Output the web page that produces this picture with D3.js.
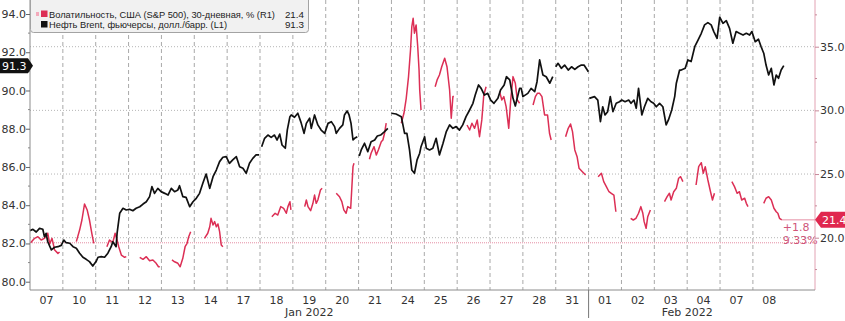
<!DOCTYPE html>
<html>
<head>
<meta charset="utf-8">
<script src="https://cdn.jsdelivr.net/npm/d3@7"></script>
<style>
  body { margin: 0; background: #fff; }
  svg { display: block; font-family: "DejaVu Sans", sans-serif; }
</style>
</head>
<body>
<svg id="chart" width="845" height="321"></svg>
<script>
// Brent vs S&P 500 30-day volatility, Jan 7 - Feb 8 2022 (intraday)

// trading days on the x axis (one slot each)
const dayLabels = ["07","10","11","12","13","14","17","18","19","20","21","24","25","26","27","28","31",
                   "01","02","03","04","07","08"];
const months = [
  { label: "Jan 2022", from: 0, to: 17 },
  { label: "Feb 2022", from: 17, to: 23 }
];
const leftTicks = [80, 82, 84, 86, 88, 90, 92, 94];
const rightTicks = [20, 25, 30, 35];

// [day position, value]; null = break in the series
const oil = [
  [0,82.67],[0.09,82.74],[0.19,82.60],[0.29,82.79],[0.39,82.74],[0.44,82.35],[0.49,82.53],[0.54,82.09],[0.65,81.66],[0.75,81.80],[0.85,81.83],[0.95,81.90],
  [1.03,82.18],[1.10,82.04],[1.21,82.01],[1.31,81.83],[1.41,81.75],[1.51,81.49],[1.61,81.28],[1.71,81.17],[1.81,81.05],[1.91,80.82],[1.97,80.96],[2.01,81.05],
  [2.07,81.28],[2.17,81.31],[2.27,81.28],[2.37,81.49],[2.47,81.83],[2.52,82.09],[2.62,81.83],[2.65,82.53],[2.73,83.58],[2.83,83.84],[2.93,83.75],[3.03,83.79],
  [3.13,83.71],[3.23,83.84],[3.34,83.92],[3.44,84.06],[3.54,84.18],[3.64,84.45],[3.71,84.97],[3.79,84.62],[3.89,84.88],[3.99,84.71],
  [4.10,84.62],[4.20,84.53],[4.30,84.88],[4.40,84.71],[4.50,84.80],[4.55,85.02],[4.65,84.45],[4.75,84.41],[4.86,83.92],[4.96,84.18],
  [5.06,84.36],[5.16,84.62],[5.26,85.15],[5.36,85.63],[5.47,84.88],[5.57,85.49],[5.67,85.84],[5.77,86.28],[5.87,86.51],[5.97,86.54],
  [6.07,86.19],[6.17,86.37],[6.28,86.54],[6.38,86.01],[6.48,85.93],[6.58,85.67],[6.68,86.19],[6.78,86.45],[6.88,86.63],[6.97,86.63],
  null,
  [7.05,87.06],[7.14,87.50],[7.24,87.67],[7.34,87.55],[7.44,87.67],[7.52,87.41],[7.60,87.72],[7.67,87.15],[7.77,86.98],[7.83,87.93],[7.91,88.63],[7.95,88.72],
  [8.05,88.60],[8.15,88.81],[8.25,88.32],[8.34,87.76],[8.41,88.28],[8.51,88.55],[8.56,88.02],[8.66,88.72],[8.76,88.20],[8.86,87.93],[8.97,87.76],
  [9.07,88.28],[9.17,88.37],[9.27,88.11],[9.32,87.76],[9.42,88.02],[9.52,88.20],[9.57,88.72],[9.65,88.93],[9.71,88.72],[9.77,88.28],[9.83,87.41],[9.88,87.50],[9.96,87.58],
  null,
  [10.02,86.57],[10.08,86.89],[10.18,87.24],[10.28,86.80],[10.38,87.32],[10.49,87.41],[10.57,87.62],[10.67,87.67],[10.79,87.85],[10.89,88.02],
  null,
  [11.0,88.81],[11.14,88.77],[11.30,88.63],[11.40,87.76],[11.47,87.76],[11.55,86.89],[11.62,85.84],[11.70,85.67],[11.78,86.37],[11.86,86.72],[11.90,87.06],
  [12.01,87.58],[12.06,86.98],[12.16,86.89],[12.26,86.98],[12.36,87.50],[12.46,86.63],[12.57,87.24],[12.67,87.85],[12.77,88.20],[12.87,88.02],[12.97,88.11],
  [13.07,87.93],[13.17,88.20],[13.27,88.63],[13.38,88.98],[13.48,89.33],[13.55,89.76],[13.65,90.29],[13.73,90.11],[13.83,89.76],[13.93,89.85],
  [14.02,89.50],[14.12,89.33],[14.24,89.59],[14.32,90.03],[14.43,90.29],[14.50,90.72],[14.60,90.55],[14.70,89.59],[14.77,89.19],[14.85,89.76],[14.90,90.11],[14.95,90.11],
  [15.00,89.68],[15.15,89.85],[15.25,90.11],[15.36,89.94],[15.43,90.46],[15.51,91.60],[15.61,90.81],[15.71,90.72],[15.82,90.38],[15.91,90.72],
  null,
  [16.0,91.24],[16.07,91.42],[16.17,91.16],[16.27,91.33],[16.38,91.07],[16.48,91.24],[16.58,91.10],[16.68,91.24],[16.78,91.33],[16.86,91.33],[16.96,91.07],[16.99,90.98],
  null,
  [17.02,89.59],[17.18,89.68],[17.28,89.50],[17.36,88.37],[17.43,89.15],[17.50,88.72],[17.58,88.89],[17.66,89.68],[17.74,88.89],[17.84,89.33],[17.94,89.41],
  [18.01,89.50],[18.11,89.41],[18.22,89.50],[18.29,89.33],[18.38,89.50],[18.45,89.07],[18.52,90.11],[18.62,88.72],[18.70,89.15],[18.80,89.59],[18.90,89.41],[18.98,89.33],
  [19.06,89.15],[19.16,89.33],[19.26,89.15],[19.36,88.20],[19.43,88.46],[19.53,88.98],[19.62,89.68],[19.67,90.38],[19.77,91.07],[19.82,91.07],[19.94,91.16],
  [20.02,91.60],[20.12,91.51],[20.23,92.29],[20.33,92.64],[20.43,92.99],[20.53,93.43],[20.63,93.55],[20.73,93.43],[20.81,93.08],[20.91,92.73],[20.99,93.83],
  [21.09,93.51],[21.19,93.65],[21.29,93.25],[21.39,92.47],[21.49,93.08],[21.59,92.99],[21.70,92.90],[21.80,92.99],[21.90,92.90],[21.97,93.08],
  [22.07,92.55],[22.17,92.68],[22.25,92.29],[22.33,91.95],[22.40,91.33],[22.48,90.81],[22.56,91.16],[22.64,90.29],[22.71,90.81],[22.78,90.64],[22.86,91.07],[22.94,91.3]
];

const vol = [
  [0.02,19.6],[0.14,19.95],[0.24,20.08],[0.34,19.82],[0.44,19.95],[0.54,20.35],[0.60,19.51],[0.67,19.95],[0.75,19.03],[0.85,18.77],[0.90,18.88], null,
  [1.41,19.69],[1.51,20.60],[1.58,21.39],[1.66,22.65],[1.74,22.18],[1.81,21.39],[1.88,20.35],[1.94,19.56], null,
  [2.34,19.29],[2.42,19.82],[2.52,19.61],[2.59,20.35],[2.65,19.82],[2.70,19.29],[2.78,18.64],[2.88,18.46],[2.93,18.51], null,
  [3.34,18.46],[3.44,18.30],[3.54,18.51],[3.64,18.19],[3.74,18.25],[3.84,17.99],[3.91,17.72],[3.95,17.72], null,
  [4.32,18.25],[4.40,18.11],[4.50,17.99],[4.57,17.72],[4.65,18.38],[4.72,19.29],[4.78,19.56],[4.83,20.08],[4.89,20.47], null,
  [5.31,19.95],[5.41,20.35],[5.47,20.86],[5.51,21.52],[5.57,21.00],[5.62,21.26],[5.67,20.86],[5.72,21.08],[5.77,20.47],[5.82,19.43],[5.87,19.29], null,
  [7.36,21.65],[7.46,21.92],[7.54,21.78],[7.63,22.44],[7.72,22.31],[7.80,21.92],[7.85,22.44],[7.91,22.83],[7.94,22.18], null,
  [8.36,22.44],[8.41,22.96],[8.46,22.44],[8.54,22.12],[8.61,22.70],[8.66,23.35],[8.71,22.70],[8.76,22.96],[8.84,23.75],[8.89,23.88], null,
  [9.32,23.49],[9.42,23.22],[9.49,22.83],[9.55,22.18],[9.62,21.92],[9.67,22.44],[9.76,22.31],[9.83,25.58],[9.86,25.84], null,
  [10.33,26.16],[10.38,26.63],[10.47,27.15],[10.54,26.50],[10.61,26.94],[10.69,27.54],[10.74,27.67],[10.79,28.20],[10.84,28.99], null,
  [11.30,28.99],[11.38,29.77],[11.45,30.95],[11.52,32.65],[11.58,34.74],[11.62,36.58],[11.66,37.23],[11.70,36.06],[11.75,36.71],[11.80,35.00],[11.84,33.17],[11.86,31.60],[11.90,30.03], null,
  [12.33,31.86],[12.39,32.39],[12.46,32.78],[12.53,33.43],[12.62,34.09],[12.69,33.43],[12.77,31.60],[12.82,29.38],[12.87,31.08],[12.90,31.08], null,
  [13.30,28.85],[13.38,28.46],[13.45,28.99],[13.53,28.59],[13.61,29.25],[13.68,27.93],[13.75,29.25],[13.81,31.21],[13.88,31.86], null,
  [14.29,31.47],[14.36,30.82],[14.42,31.08],[14.49,30.29],[14.57,28.59],[14.63,30.82],[14.70,32.65],[14.77,32.13],[14.83,30.82],[14.90,30.56], null,
  [15.31,30.42],[15.38,31.08],[15.44,31.34],[15.51,31.34],[15.58,31.08],[15.66,29.64],[15.75,29.64],[15.81,28.20],[15.86,27.67], null,
  [16.30,27.93],[16.38,28.59],[16.45,28.93],[16.51,28.33],[16.58,26.89],[16.65,26.36],[16.71,25.45],[16.81,25.18],[16.91,24.92], null,
  [17.29,24.79],[17.39,25.06],[17.46,24.40],[17.54,24.01],[17.62,23.61],[17.69,23.49],[17.77,23.35],[17.83,22.04], null,
  [18.28,21.52],[18.36,21.39],[18.44,21.52],[18.52,21.92],[18.59,22.44],[18.65,21.92],[18.69,21.26],[18.75,20.74],[18.80,21.65],[18.88,22.18], null,
  [19.31,22.83],[19.39,23.22],[19.46,23.49],[19.51,22.96],[19.59,23.61],[19.67,23.88],[19.74,24.67],[19.80,24.79],[19.87,24.40], null,
  [20.27,24.14],[20.35,25.58],[20.43,25.89],[20.49,25.06],[20.55,25.58],[20.63,24.53],[20.71,23.61],[20.77,22.96],[20.83,23.49], null,
  [21.36,24.40],[21.44,24.01],[21.52,23.49],[21.59,23.61],[21.66,22.96],[21.75,23.10],[21.80,22.70],[21.85,22.44], null,
  [22.33,22.70],[22.40,23.10],[22.48,23.22],[22.56,22.96],[22.64,22.31],[22.71,22.04],[22.76,21.92],[22.81,21.52],[22.88,21.4]
];

const volStart = 19.6;   // first value, shown as a reference line
const volLast = 21.4, oilLast = 91.3;
const volChange = "+1.8", volChangePct = "9.33%";
const legendItems = [
  { name: "Волатильность, США (S&P 500), 30-дневная, % (R1)", value: "21.4", color: "#dc2f55" },
  { name: "Нефть Brent, фьючерсы, долл./барр. (L1)", value: "91.3", color: "#111" }
];

const RED = "#dc2f55", PINK = "#e58da3";
const svg = d3.select("#chart");
const left = 30, right = 815, plotBottom = 290;

const x = d3.scaleLinear().domain([0, 23.89]).range([left, right]);
const yL = d3.scaleLinear().domain([80, 94]).range([281.7, 14]);
const yR = d3.scaleLinear().domain([20, 35]).range([237.7, 46.7]);

// gridlines
svg.append("g").selectAll("line")
  .data(d3.range(1, dayLabels.length))
  .join("line")
  .attr("x1", d => x(d)).attr("x2", d => x(d))
  .attr("y1", 0).attr("y2", plotBottom)
  .attr("stroke", "#a9a9a9").attr("stroke-dasharray", "4,3");

svg.append("g").selectAll("line")
  .data(rightTicks)
  .join("line")
  .attr("x1", left).attr("x2", right)
  .attr("y1", d => yR(d)).attr("y2", d => yR(d))
  .attr("stroke", "#b5b5b5").attr("stroke-dasharray", "1,2");

// start-value reference line
svg.append("line")
  .attr("x1", left).attr("x2", right)
  .attr("y1", yR(volStart)).attr("y2", yR(volStart))
  .attr("stroke", PINK).attr("stroke-dasharray", "1,1");

// series
const lineL = d3.line().defined(d => d).x(d => x(d[0])).y(d => yL(d[1]));
const lineR = d3.line().defined(d => d).x(d => x(d[0])).y(d => yR(d[1]));

svg.append("path").datum(vol)
  .attr("d", lineR).attr("fill", "none")
  .attr("stroke", RED).attr("stroke-width", 1.5).attr("stroke-linejoin", "round");

svg.append("path").datum(oil)
  .attr("d", lineL).attr("fill", "none")
  .attr("stroke", "#111").attr("stroke-width", 1.7).attr("stroke-linejoin", "round");

// last value line for vol
const lastVolT = vol[vol.length - 1][0];
svg.append("line")
  .attr("x1", x(lastVolT)).attr("x2", right)
  .attr("y1", yR(volLast)).attr("y2", yR(volLast))
  .attr("stroke", PINK).attr("stroke-width", 1);

svg.append("text").attr("x", x(lastVolT) + 1).attr("y", yR(volLast) + 11)
  .attr("font-size", 11).attr("fill", "#d0567a").text(volChange);
svg.append("text").attr("x", x(lastVolT) + 1).attr("y", yR(volLast) + 24)
  .attr("font-size", 11).attr("fill", "#d0567a").text(volChangePct);

// left axis
svg.append("line").attr("x1", left).attr("x2", left).attr("y1", 0).attr("y2", plotBottom)
  .attr("stroke", "#8c8c8c");
const axL = svg.append("g").attr("transform", `translate(${left},0)`)
  .call(d3.axisLeft(yL).tickValues(leftTicks).tickSize(4).tickSizeOuter(0).tickFormat(d3.format(".1f")));
axL.select(".domain").remove();
axL.selectAll(".tick line").attr("stroke", "#666");
axL.selectAll(".tick text").attr("font-size", 11).attr("fill", "#333").attr("font-family", "DejaVu Sans").attr("x", -4);
svg.append("g").selectAll("line")
  .data(d3.range(81, 94, 2))
  .join("line")
  .attr("x1", left - 2).attr("x2", left)
  .attr("y1", d => yL(d)).attr("y2", d => yL(d))
  .attr("stroke", "#888");

// right axis
svg.append("line").attr("x1", right).attr("x2", right).attr("y1", 0).attr("y2", plotBottom)
  .attr("stroke", "#e2a2b3");
const axR = svg.append("g").attr("transform", `translate(${right},0)`)
  .call(d3.axisRight(yR).tickValues(rightTicks).tickSize(4).tickSizeOuter(0).tickFormat(d3.format(".1f")));
axR.select(".domain").remove();
axR.selectAll(".tick line").attr("stroke", "#c78a9a");
axR.selectAll(".tick text").attr("font-size", 11).attr("fill", "#333").attr("font-family", "DejaVu Sans").attr("x", 5);
svg.append("g").selectAll("line")
  .data([17.5, 22.5, 27.5, 32.5, 37.5])
  .join("line")
  .attr("x1", right).attr("x2", right + 2)
  .attr("y1", d => yR(d)).attr("y2", d => yR(d))
  .attr("stroke", "#c78a9a");

// bottom axis
svg.append("line").attr("x1", left).attr("x2", right).attr("y1", plotBottom).attr("y2", plotBottom)
  .attr("stroke", "#8c8c8c");
svg.append("g").selectAll("text")
  .data(dayLabels)
  .join("text")
  .attr("x", (d, i) => x(i + 0.5)).attr("y", 304)
  .attr("text-anchor", "middle").attr("font-size", 11).attr("fill", "#333")
  .text(d => d);
svg.append("g").selectAll("text")
  .data(months)
  .join("text")
  .attr("x", d => x((d.from + d.to) / 2)).attr("y", 316)
  .attr("text-anchor", "middle").attr("font-size", 11).attr("fill", "#333")
  .text(d => d.label);
svg.append("line").attr("x1", x(17)).attr("x2", x(17)).attr("y1", plotBottom).attr("y2", 318)
  .attr("stroke", "#777");

// value tags on the axes
const yo = yL(oilLast);
svg.append("path")
  .attr("d", `M0,${yo - 7.5}H28L33,${yo}L28,${yo + 7.5}H0Z`)
  .attr("fill", "#111");
svg.append("text").attr("x", 2).attr("y", yo + 4)
  .attr("font-size", 11).attr("fill", "#fff").text(oilLast.toFixed(1));

const yv = yR(volLast);
svg.append("path")
  .attr("d", `M${right},${yv}L${right + 6},${yv - 8}H845V${yv + 8}H${right + 6}Z`)
  .attr("fill", "#e0284f");
svg.append("text").attr("x", 822).attr("y", yv + 4)
  .attr("font-size", 11).attr("fill", "#fff").text(volLast.toFixed(1));

// legend
const lg = svg.append("g");
lg.append("rect").attr("x", 30.5).attr("y", -4).attr("width", 278).attr("height", 36.5)
  .attr("rx", 3).attr("fill", "#f1f1f1").attr("stroke", "#a3a3a3");
lg.append("rect").attr("x", 36).attr("y", 12).attr("width", 3).attr("height", 4).attr("fill", "#f3aabb");
legendItems.forEach((it, i) => {
  const cy = 14 + i * 10.5;
  lg.append("rect").attr("x", 41).attr("y", cy - 3.5).attr("width", 6.5).attr("height", 6.5).attr("fill", it.color);
  lg.append("text").attr("x", 49).attr("y", cy + 3.5)
    .attr("font-family", "Liberation Sans, Arial, sans-serif").attr("font-size", 9.3).attr("fill", "#222")
    .text(it.name);
  lg.append("text").attr("x", 304).attr("y", cy + 3.5).attr("text-anchor", "end")
    .attr("font-family", "Liberation Sans, Arial, sans-serif").attr("font-size", 9.8).attr("fill", "#222")
    .text(it.value);
});
</script>
</body>
</html>
